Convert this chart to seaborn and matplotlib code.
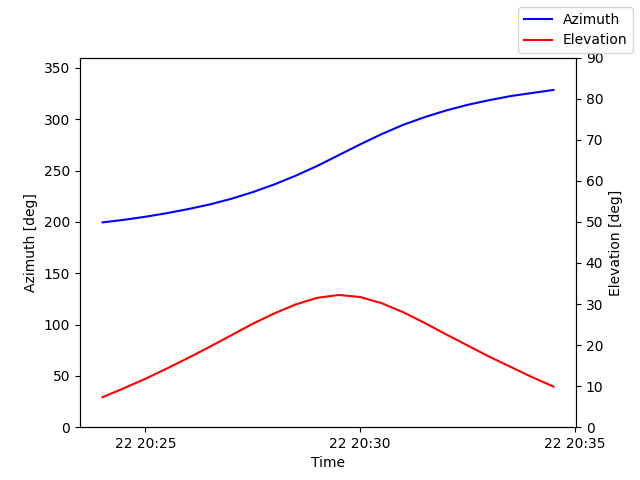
import pandas as pd
import matplotlib
matplotlib.use("Agg")
import matplotlib.pyplot as plt
import matplotlib.dates as mdates
import seaborn as sns

times = pd.date_range("2024-01-22 20:24:00", "2024-01-22 20:34:30", freq="30s")
azimuth = [199.5, 202, 205, 208.5, 212.5, 217, 222.5, 229, 236.5, 245, 254.5,
           265, 275.5, 285.5, 294.5, 302, 308.5, 314, 318.5, 322.5, 325.5, 328.5]
elevation = [7.3, 9.5, 11.8, 14.3, 16.9, 19.6, 22.4, 25.2, 27.7, 29.9, 31.5,
             32.2, 31.7, 30.2, 28.0, 25.4, 22.6, 19.9, 17.2, 14.7, 12.2, 9.9]

df = pd.DataFrame({"Time": times, "az": azimuth, "el": elevation})

fig, ax = plt.subplots(figsize=(6.4, 4.8), dpi=100)
sns.lineplot(data=df, x="Time", y="az", color="blue", label="Azimuth", ax=ax, legend=False)
ax2 = ax.twinx()
sns.lineplot(data=df, x="Time", y="el", color="red", label="Elevation", ax=ax2, legend=False)

ax.set_ylim(0, 360)
ax2.set_ylim(0, 90)
ax.set_ylabel("Azimuth [deg]")
ax2.set_ylabel("Elevation [deg]")
ax.set_xlabel("Time")
ax.xaxis.set_major_locator(mdates.MinuteLocator(byminute=range(0, 60, 5)))
ax.xaxis.set_major_formatter(mdates.DateFormatter("%d %H:%M"))

fig.legend(loc="upper right")
fig.savefig("out.png")
